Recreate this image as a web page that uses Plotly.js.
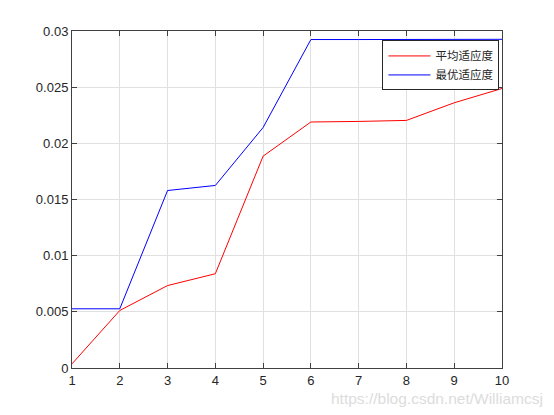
<!DOCTYPE html>
<html>
<head>
<meta charset="utf-8">
<script src="https://cdn.plot.ly/plotly-3.0.1.min.js"></script>
<style>html,body{margin:0;padding:0;background:#fff;}#chart{width:554px;height:415px;}</style>
</head>
<body>
<div id="chart"></div>
<script>
const generations = [1, 2, 3, 4, 5, 6, 7, 8, 9, 10];
const avgFitness = [0.00037, 0.00512, 0.00734, 0.00839, 0.01886, 0.02190, 0.02195, 0.02204, 0.02361, 0.02488];
const bestFitness = [0.00527, 0.00527, 0.01580, 0.01625, 0.02141, 0.02924, 0.02924, 0.02924, 0.02925, 0.02926];
const seriesNames = ['平均适应度', '最优适应度'];
const xTicks = [1, 2, 3, 4, 5, 6, 7, 8, 9, 10];
const yTicks = [0, 0.005, 0.01, 0.015, 0.02, 0.025, 0.03];
const yTickText = ['0', '0.005', '0.01', '0.015', '0.02', '0.025', '0.03'];

const axisCommon = {
  showline: true, linecolor: '#404040', linewidth: 1, mirror: 'allticks',
  ticks: 'inside', ticklen: 5, tickcolor: '#404040',
  showgrid: true, gridcolor: '#e0e0e0', gridwidth: 1, zeroline: false,
  tickfont: {family: 'Liberation Sans, Arial, sans-serif', size: 13, color: '#262626'}
};

const data = [
  {x: generations, y: avgFitness, name: seriesNames[0], type: 'scatter', mode: 'lines', line: {color: '#ff0000', width: 1}},
  {x: generations, y: bestFitness, name: seriesNames[1], type: 'scatter', mode: 'lines', line: {color: '#0000ff', width: 1}}
];

const layout = {
  width: 554, height: 415,
  margin: {l: 72, r: 52, t: 31, b: 46.5},
  paper_bgcolor: '#ffffff', plot_bgcolor: '#ffffff',
  showlegend: true,
  xaxis: Object.assign({}, axisCommon, {range: [1, 10], tickvals: xTicks, ticktext: xTicks.map(String)}),
  yaxis: Object.assign({}, axisCommon, {range: [0, 0.03], tickvals: yTicks, ticktext: yTickText}),
  legend: {
    x: 0.994, y: 0.972, xanchor: 'right', yanchor: 'top',
    bgcolor: '#ffffff', bordercolor: '#262626', borderwidth: 1,
    font: {family: 'Noto Sans CJK SC, sans-serif', size: 11.5, color: '#262626'},
    tracegroupgap: 0, itemwidth: 42
  },
  annotations: [{
    text: 'https://blog.csdn.net/Williamcsj', xref: 'paper', yref: 'paper',
    x: 1.1, y: -0.06, xanchor: 'right', yanchor: 'top', showarrow: false,
    font: {family: 'Liberation Sans, Arial, sans-serif', size: 15.5, color: '#dcdcdc'}
  }]
};

Plotly.newPlot('chart', data, layout, {displayModeBar: false, staticPlot: true});
</script>
</body>
</html>
